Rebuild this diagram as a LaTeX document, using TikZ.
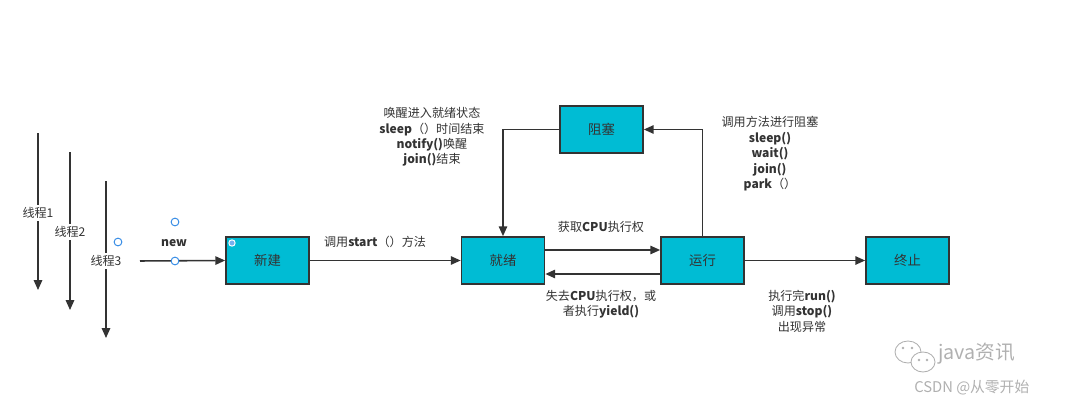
\documentclass[tikz,border=0pt]{standalone}
\usepackage{fontspec}
\setmainfont{Noto Sans CJK SC}
\usepackage{xcolor}
\usepackage{tikz}
\usetikzlibrary{arrows.meta}
\definecolor{ink}{HTML}{333333}
\definecolor{state}{HTML}{00BCD4}
\definecolor{handle}{HTML}{3A8EE6}
\definecolor{wmgrey}{HTML}{B0B0B0}
\tikzset{
  box/.style={draw=ink, fill=state, line width=1.2pt, minimum width=83*0.025cm, minimum height=47*0.025cm, inner sep=0pt, text=ink, font=\fontsize{9.5}{11}\selectfont},
  flow/.style={draw=ink, line width=1.1pt, -{Triangle[length=7pt,width=6pt]}},
  lab/.style={text=ink, font=\fontsize{8.6}{11}\selectfont, align=center, inner sep=1pt},
  thread/.style={lab, fill=white, inner sep=1.5pt},
  hdl/.style={circle, draw=handle, fill=white, line width=0.7pt, inner sep=0pt, minimum size=5.5pt},
  wm/.style={text=wmgrey, inner sep=0pt},
}

\begin{document}
\begin{tikzpicture}[x=0.025cm, y=-0.025cm]
  \useasboundingbox (0,0) rectangle (1080,408);
  % threads
  \draw[flow] (38,133) -- (38,290);
  \draw[flow] (70,152) -- (70,310);
  \draw[flow] (106,181) -- (106,338);
  \node[thread] (t1) at (38,213) {线程1};
  \node[thread] (t2) at (70,232) {线程2};
  \node[thread] (t3) at (106,261) {线程3};
  % states
  \node[box] (new)   at (267.5,260.5) {新建};
  \node[box] (ready) at (503,260.5)   {就绪};
  \node[box] (block) at (601.5,129.5) {阻塞};
  \node[box] (run)   at (702.5,260.5) {运行};
  \node[box] (dead)  at (907.5,260.5) {终止};
  \coordinate (src) at (140,261);
  % transitions
  \draw[flow] (src) -- (new.west);
  \draw[flow] (new.east) -- (ready.west);
  \draw[flow] ([yshift=10.5*0.025cm]ready.east) -- ([yshift=10.5*0.025cm]run.west);
  \draw[flow] ([yshift=-13.5*0.025cm]run.west) -- ([yshift=-13.5*0.025cm]ready.east);
  \draw[flow] (run.north) -- (run.north |- block.east) -- (block.east);
  \draw[flow] (block.west) -- (ready.north |- block.west) -- (ready.north);
  \draw[flow] (run.east) -- (dead.west);
  % labels
  \node[lab] (lnew) at (174,243) {\textbf{new}};
  \node[lab] (lstart) at (375,242) {调用\textbf{start}（）方法};
  \node[lab] (lget) at (601,227) {获取\textbf{CPU}执行权};
  \node[lab] (llose) at (601,304) {失去\textbf{CPU}执行权，或\\者执行\textbf{yield()}};
  \node[lab] (lwake) at (432,137) {唤醒进入就绪状态\\\textbf{sleep}（）时间结束\\\textbf{notify()}唤醒\\\textbf{join()}结束};
  \node[lab] (lblock) at (770,154) {调用方法进行阻塞\\\textbf{sleep()}\\\textbf{wait()}\\\textbf{join()}\\\textbf{park}（）};
  \node[lab] (lend) at (802,311) {执行完\textbf{run()}\\调用\textbf{stop()}\\出现异常};
  % selection handles
  \node[hdl] (h1) at (175,222) {};
  \node[hdl] (h2) at (175,261) {};
  \node[hdl] (h3) at (118,242) {};
  \node[hdl, draw=white, fill=handle!70, minimum size=4.5pt] (h4) at (232,243) {};
  % watermark
  \draw[draw=wmgrey, line width=0.6pt, fill=white] (908,352) ellipse (13 and 11);
  \draw[draw=wmgrey, line width=0.6pt, fill=white] (923,362) ellipse (12 and 10);
  \fill[wmgrey] (903,348) circle (1.3) (912,348) circle (1.3) (919,360) circle (1.3) (927,360) circle (1.3);
  \node[wm, font=\fontsize{14}{16}\selectfont, anchor=west] (wm1) at (938,354) {java资讯};
  \node[wm, font=\fontsize{10.5}{12}\selectfont, anchor=west] (wm2) at (914,388) {CSDN @从零开始};
\end{tikzpicture}
\end{document}
